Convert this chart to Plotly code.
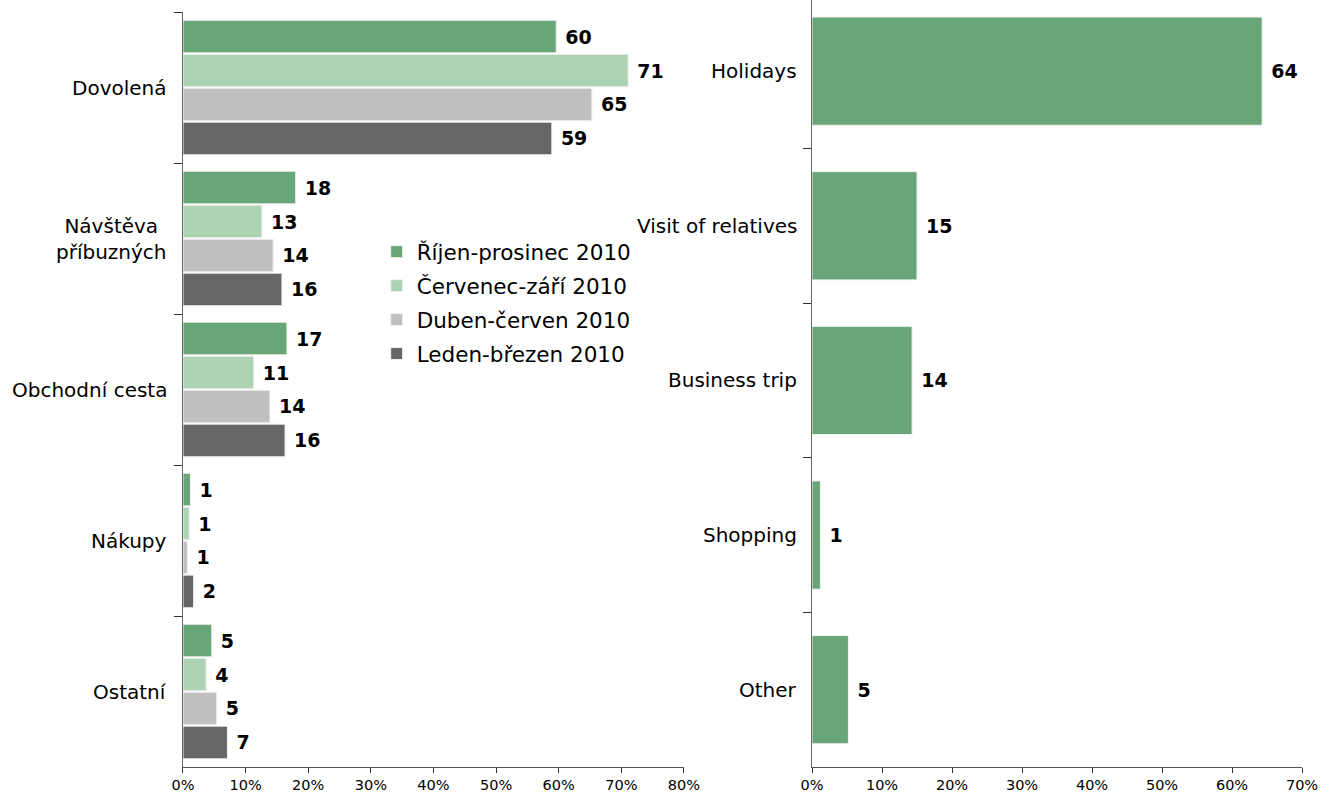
import plotly.graph_objects as go

# ---- data ----
categories_cz = ["Dovolená", "Návštěva<br>příbuzných", "Obchodní cesta", "Nákupy", "Ostatní"]
series_names = ["Říjen-prosinec 2010", "Červenec-září 2010", "Duben-červen 2010", "Leden-březen 2010"]
q4_2010 = [59.6, 18.0, 16.6, 1.2, 4.6]
q3_2010 = [71.1, 12.6, 11.3, 1.0, 3.7]
q2_2010 = [65.3, 14.4, 13.9, 0.7, 5.4]
q1_2010 = [58.9, 15.8, 16.3, 1.7, 7.1]

categories_en = ["Holidays", "Visit of relatives", "Business trip", "Shopping", "Other"]
values_en = [64.3, 15.0, 14.3, 1.2, 5.2]

left_ticks = [0, 10, 20, 30, 40, 50, 60, 70, 80]
right_ticks = [0, 10, 20, 30, 40, 50, 60, 70]

colors = ["#68A678", "#AED3B2", "#C0C0C0", "#666666"]
FONT = "DejaVu Sans"
LABEL_SIZE = 20
LEGEND_SIZE = 21.5
VALUE_SIZE = 19
TICK_SIZE = 14.5

fig = go.Figure()

for name, vals, col in zip(series_names, [q4_2010, q3_2010, q2_2010, q1_2010], colors):
    fig.add_trace(go.Bar(
        y=categories_cz, x=vals, orientation="h", name=name,
        marker=dict(color=col, line=dict(color="#F2F2F2", width=1)),
        text=["\u00a0<b>%d</b>" % round(v) for v in vals],
        textposition="outside", cliponaxis=False, constraintext="none",
        textfont=dict(family=FONT, size=VALUE_SIZE, color="black"),
        xaxis="x", yaxis="y", legendgroup=name,
    ))

fig.add_trace(go.Bar(
    y=categories_en, x=values_en, orientation="h", showlegend=False,
    width=0.70,
    marker=dict(color=colors[0], line=dict(color="#F2F2F2", width=1)),
    text=["\u00a0<b>%d</b>" % round(v) for v in values_en],
    textposition="outside", cliponaxis=False, constraintext="none",
    textfont=dict(family=FONT, size=VALUE_SIZE, color="black"),
    xaxis="x2", yaxis="y2",
))

# left category labels (centered multi-line) as annotations
for c in categories_cz:
    fig.add_annotation(x=0, y=c, xref="x", yref="y", text=c, showarrow=False,
                       xanchor="right", align="center", xshift=-14,
                       font=dict(family=FONT, size=LABEL_SIZE, color="black"))

# right category labels
for c in categories_en:
    fig.add_annotation(x=0, y=c, xref="x2", yref="y2", text=c, showarrow=False,
                       xanchor="right", align="right", xshift=-13,
                       font=dict(family=FONT, size=LABEL_SIZE, color="black"))

def xaxis_cfg(domain, rng, ticks, anchor):
    return dict(domain=domain, range=rng, tickmode="array", tickvals=ticks,
                ticktext=["%d%%" % t for t in ticks], anchor=anchor, automargin=False,
                showgrid=False, zeroline=False, showline=True, linecolor="#555555",
                linewidth=1, ticks="outside", tickcolor="#333333", ticklen=5,
                tickfont=dict(family=FONT, size=TICK_SIZE, color="black"))

def yaxis_cfg(domain, rng, cats, anchor):
    return dict(domain=domain, range=rng, type="category", categoryorder="array",
                categoryarray=cats, showticklabels=False, showgrid=False,
                automargin=False, zeroline=False, showline=True, linecolor="#666666",
                linewidth=1.3, ticks="outside", tickson="boundaries", ticklen=8,
                tickcolor="#333333", anchor=anchor)

fig.update_layout(
    template="none",
    width=1324, height=800, autosize=False,
    margin=dict(l=0, r=0, t=0, b=0, pad=0, autoexpand=False),
    paper_bgcolor="white", plot_bgcolor="white",
    barmode="group", bargap=0.1, bargroupgap=0.04,
    font=dict(family=FONT, color="black"),
    xaxis=xaxis_cfg([0.1382, 0.5166], [0, 80], left_ticks, "y"),
    yaxis=yaxis_cfg([0.04125, 0.985], [4.5, -0.5], categories_cz, "x"),
    xaxis2=xaxis_cfg([0.6133, 0.9834], [0, 70], right_ticks, "y2"),
    yaxis2=yaxis_cfg([0.04125, 1.0], [4.5, -0.46], categories_en, "x2"),
    legend=dict(x=0.2845, y=0.711, xanchor="left", yanchor="top",
                traceorder="grouped", tracegroupgap=3,
                font=dict(family=FONT, size=LEGEND_SIZE, color="black"),
                bgcolor="rgba(0,0,0,0)", borderwidth=0),
    showlegend=True,
)

fig.write_html("out.html",
               config={"displayModeBar": False, "responsive": False},
               post_script="document.body.style.margin='0';"
                           "document.body.style.overflow='hidden';")
